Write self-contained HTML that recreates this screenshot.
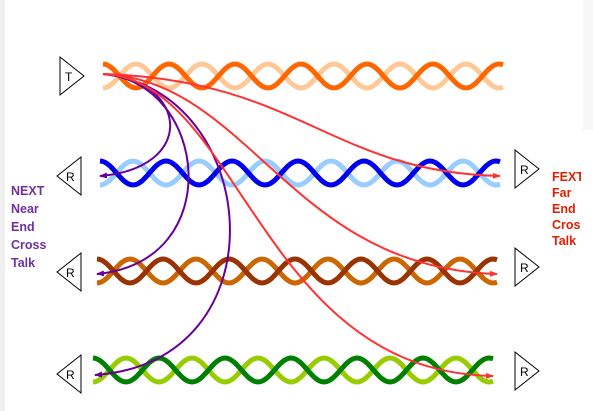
<!DOCTYPE html>
<html><head><meta charset="utf-8"><style>
html,body{margin:0;padding:0;background:#fff;}
svg{display:block;}
text{font-family:"Liberation Sans",sans-serif;}
.lbl{font-weight:bold;font-size:12.5px;}
</style></head><body>
<svg id="c" width="593" height="411" viewBox="0 0 593 411" xmlns="http://www.w3.org/2000/svg">
<rect x="0" y="0" width="5" height="411" fill="#f0f0f0"/>
<rect x="583" y="0" width="10" height="130" fill="#f7f7f7"/>
<defs>
<marker id="ap" markerWidth="8" markerHeight="6" refX="7" refY="3" orient="auto" markerUnits="userSpaceOnUse"><path d="M0,0 L8,3 L0,6 Z" fill="#660099"/></marker>
<marker id="ar" markerWidth="8" markerHeight="6" refX="7" refY="3" orient="auto" markerUnits="userSpaceOnUse"><path d="M0,0 L8,3 L0,6 Z" fill="#ff3333"/></marker>
<clipPath id="clipR"><rect x="540" y="150" width="41" height="120"/></clipPath>
</defs>
<g id="pairs"></g>
<g id="tris"></g>
<g id="curves" fill="none" stroke-width="2">
<path d="M103,74 C188,80 198,168 100,176" stroke="#660099" marker-end="url(#ap)"/>
<path d="M103,74 C208,82 228,262 97,274" stroke="#660099" marker-end="url(#ap)"/>
<path d="M103,74 C262,90 285,362 95,375" stroke="#660099" marker-end="url(#ap)"/>
<path d="M103,74 C300,80 330,172 500,176" stroke="#ff3333" marker-end="url(#ar)"/>
<path d="M103,74 C250,80 290,268 497,274" stroke="#ff3333" marker-end="url(#ar)"/>
<path d="M103,74 C240,80 260,372 493,376" stroke="#ff3333" marker-end="url(#ar)"/>
</g>
<g class="lbl" fill="#7030a0">
<text x="11" y="195">NEXT</text><text x="11" y="213">Near</text><text x="11" y="231">End</text><text x="11" y="249">Cross</text><text x="11" y="267">Talk</text>
</g>
<g class="lbl" fill="#e02000" clip-path="url(#clipR)">
<text x="552" y="181">FEXT</text><text x="552" y="197">Far</text><text x="552" y="213">End</text><text x="552" y="229">Cross</text><text x="552" y="245">Talk</text>
</g>
</svg>
<script>
const pairY=[76,173,271,370];
const pairX0=[103,100,97,93];
const darkCol=["#ff6600","#0000ee","#993300","#008000"];
const lightCol=["#ffc896","#99ccff","#cc6600","#99cc00"];
const NS="http://www.w3.org/2000/svg";
const g=document.getElementById('pairs');
pairY.forEach((cy,i)=>{
  const x0=pairX0[i],len=400,per=66,amp=12;
  [[lightCol[i],1],[darkCol[i],-1]].forEach(([col,s],k)=>{
    let d="";
    for(let x=0;x<=len;x+=2){
      const y=cy+s*amp*Math.cos(2*Math.PI*x/per);
      d+=(x?"L":"M")+(x0+x)+","+y.toFixed(1);
    }
    const p=document.createElementNS(NS,'path');
    p.setAttribute('d',d);p.setAttribute('fill','none');
    p.setAttribute('stroke',col);p.setAttribute('stroke-width','5');
    
    
    g.appendChild(p);
  });
});
const triLeftX=[60,57,57,57];
const triY=[76,176,272,374];
const triLabel=["T","R","R","R"];
const triDir=[1,-1,-1,-1];
const rightTriY=[169,267,371];
const t=document.getElementById('tris');
function tri(x,cy,dir,lab,name){
  const gg=document.createElementNS(NS,'g');
  
  
  const p=document.createElementNS(NS,'path');
  const w=24,h=19;
  const d=dir>0?`M${x},${cy-h} L${x+w},${cy} L${x},${cy+h} Z`:`M${x+w},${cy-h} L${x},${cy} L${x+w},${cy+h} Z`;
  p.setAttribute('d',d);p.setAttribute('fill','#fff');p.setAttribute('stroke','#000');p.setAttribute('stroke-width','1');
  gg.appendChild(p);
  const tx=document.createElementNS(NS,'text');
  tx.setAttribute('x',dir>0?x+5:x+9);tx.setAttribute('y',cy+5);tx.setAttribute('font-size','12');
  tx.textContent=lab;gg.appendChild(tx);
  t.appendChild(gg);
}
triY.forEach((cy,i)=>tri(triLeftX[i],cy,triDir[i],triLabel[i],i?'receiver-left-'+i:'transmitter'));
rightTriY.forEach((cy,i)=>tri(515,cy,1,"R",'receiver-right-'+(i+1)));
</script>
</body></html>
